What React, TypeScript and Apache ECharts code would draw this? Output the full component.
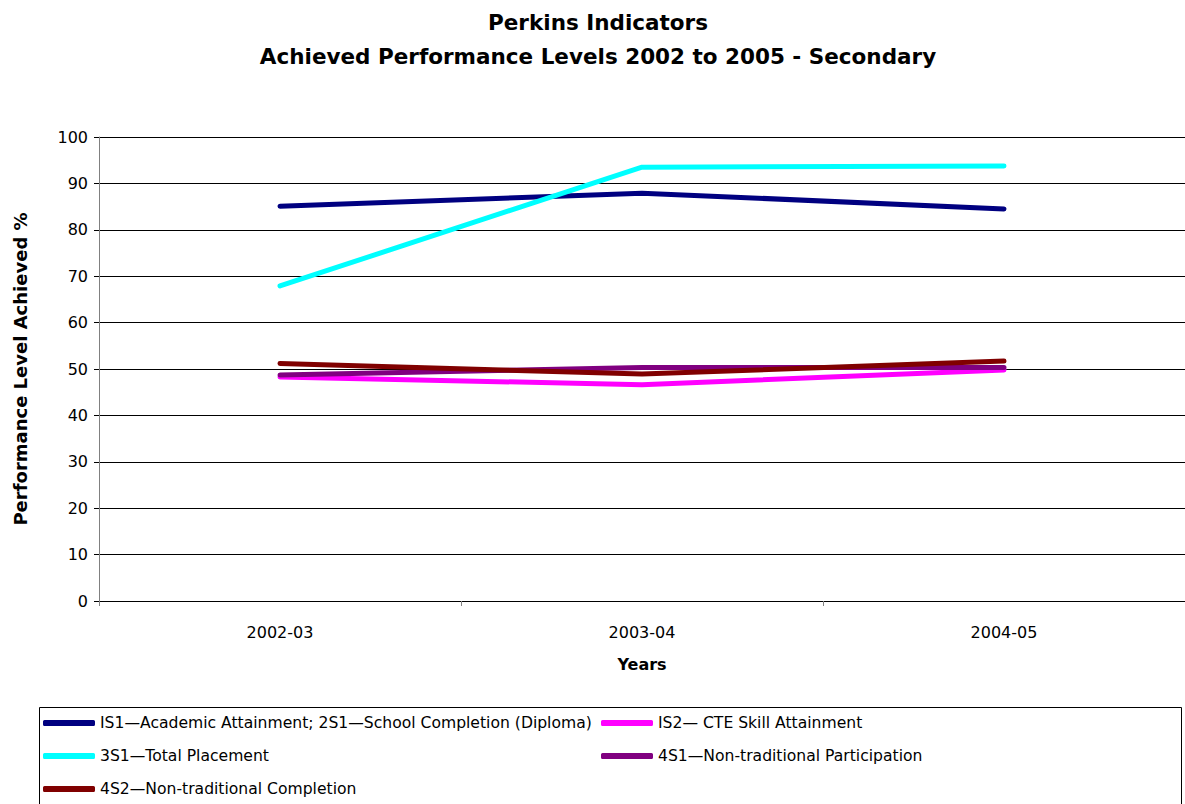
import React, { useEffect, useRef } from "react";
import * as echarts from "echarts";

const categories = ["2002-03", "2003-04", "2004-05"];
const seriesNames = [
  "IS1\u2014Academic Attainment; 2S1\u2014School Completion (Diploma)",
  "IS2\u2014 CTE Skill Attainment",
  "3S1\u2014Total Placement",
  "4S1\u2014Non-traditional Participation",
  "4S2\u2014Non-traditional Completion",
];
const academic = [85.1, 87.9, 84.5];
const cteSkill = [48.3, 46.6, 49.8];
const placement = [67.9, 93.5, 93.75];
const ntParticipation = [48.7, 50.3, 50.3];
const ntCompletion = [51.2, 48.9, 51.7];
const seriesValues = [academic, cteSkill, placement, ntParticipation, ntCompletion];
const seriesColors = ["#000080", "#FF00FF", "#00FFFF", "#800080", "#800000"];
const yTicks = { min: 0, max: 100, interval: 10 };
const titleLines = ["Perkins Indicators", "Achieved Performance Levels 2002 to 2005 - Secondary"];

const FONT = "DejaVu Sans";

export default function App() {
  const ref = useRef<HTMLDivElement>(null);
  useEffect(() => {
    if (!ref.current) return;
    const chart = echarts.init(ref.current, null, { renderer: "svg" });
    const legendPos = [
      { left: 43, top: 715 },
      { left: 601, top: 715 },
      { left: 43, top: 748 },
      { left: 601, top: 748 },
      { left: 43, top: 781 },
    ];
    chart.setOption({
      animation: false,
      backgroundColor: "#fff",
      legend: seriesNames.map((n, i) => ({
        data: [n],
        left: legendPos[i].left,
        top: legendPos[i].top,
        padding: 0,
        icon: "roundRect",
        itemWidth: 52,
        itemHeight: 6,
        textStyle: { fontFamily: FONT, fontSize: 15.6, color: "#000" },
        selectedMode: false,
      })),
      graphic: [
        ...titleLines.map((t, i) => ({
          type: "text",
          x: 598,
          y: 22 + i * 34,
          silent: true,
          style: {
            text: t,
            fontFamily: FONT,
            fontWeight: "bold",
            fontSize: 21.5,
            fill: "#000",
            textAlign: "center",
            textVerticalAlign: "middle",
          },
        })),
        {
          type: "rect",
          shape: { x: 39.5, y: 707.5, width: 1142, height: 120 },
          style: { fill: "none", stroke: "#000", lineWidth: 1 },
          silent: true,
        },
      ],
      grid: { left: 99, top: 137, bottom: 203, right: -6, containLabel: false },
      xAxis: {
        type: "category",
        data: categories,
        boundaryGap: true,
        name: "Years",
        nameLocation: "middle",
        nameGap: 55,
        nameTextStyle: { fontFamily: FONT, fontWeight: "bold", fontSize: 16, color: "#000" },
        axisLine: { lineStyle: { color: "#000", width: 1 } },
        axisTick: { show: true, length: 5, lineStyle: { color: "#808080" } },
        axisLabel: { fontFamily: FONT, fontSize: 16, color: "#000", margin: 23 },
        splitLine: { show: false },
      },
      yAxis: {
        type: "value",
        min: yTicks.min,
        max: yTicks.max,
        interval: yTicks.interval,
        name: "Performance Level Achieved %",
        nameLocation: "middle",
        nameGap: 70,
        nameRotate: 90,
        nameTextStyle: { fontFamily: FONT, fontWeight: "bold", fontSize: 18, color: "#000" },
        axisLine: { show: true, lineStyle: { color: "#808080", width: 1 } },
        axisTick: { show: true, length: 5, lineStyle: { color: "#000" } },
        axisLabel: { fontFamily: FONT, fontSize: 16, color: "#000", margin: 11 },
        splitLine: { show: true, lineStyle: { color: "#000", width: 1 } },
      },
      series: seriesNames.map((n, i) => ({
        name: n,
        type: "line",
        data: seriesValues[i],
        showSymbol: false,
        symbol: "none",
        color: seriesColors[i],
        lineStyle: { color: seriesColors[i], width: 5, cap: "round", join: "round" },
        itemStyle: { color: seriesColors[i] },
      })),
    });
    return () => chart.dispose();
  }, []);
  return (
    <div
      ref={ref}
      style={{ position: "fixed", left: 0, top: 0, width: 1185, height: 804, background: "#fff" }}
    />
  );
}
